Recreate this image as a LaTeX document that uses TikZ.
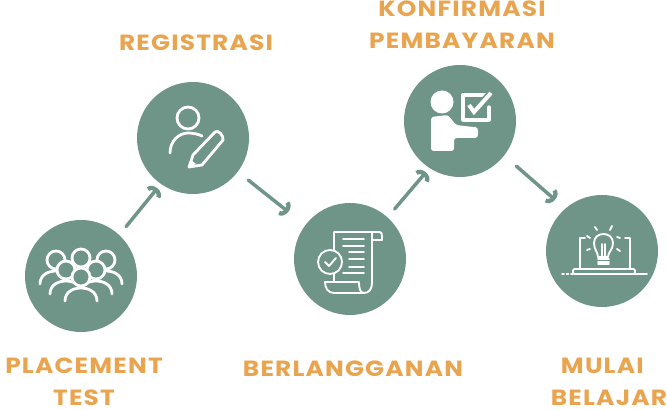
\documentclass[tikz,border=0pt]{standalone}
\usepackage{fontspec}
\setmainfont{Poppins}[LetterSpace=5.5,FakeStretch=1.13]
\usetikzlibrary{arrows.meta}
\definecolor{sage}{HTML}{6F9488}
\definecolor{sand}{HTML}{E9A44F}
\tikzstyle{stage} = [circle,fill=sage,minimum size=84pt,inner sep=0pt]
\tikzstyle{label} = [text=sand,font=\bfseries\fontsize{16.5}{24}\selectfont,align=center,inner sep=0pt]
\tikzstyle{flow} = [draw=sage,line width=2.6pt,line cap=round,-{Arc Barb[length=5pt,width=13pt,line width=3.2pt]}]
\tikzstyle{icon} = [draw=white,line width=2.1pt,line cap=round,line join=round]
\tikzstyle{thin} = [draw=white,line width=1.4pt,line cap=round,line join=round]
\newcommand{\person}[2]{%
  \fill[sage] (#1,#2) circle (10);
  \path[icon,fill=sage] (#1-16,#2-24) .. controls (#1-16,#2-15) and (#1-8,#2-11) .. (#1,#2-11)
    .. controls (#1+8,#2-11) and (#1+16,#2-15) .. (#1+16,#2-24);
  \draw[icon] (#1,#2) circle (9);
}
\begin{document}
\begin{tikzpicture}[x=0.75pt,y=0.75pt]
  \useasboundingbox (0,0) rectangle (667,410);

  %circles
  \node[stage] (placement) at (81,134) {};
  \node[stage] (registrasi) at (193,272) {};
  \node[stage] (berlangganan) at (350,151) {};
  \node[stage] (konfirmasi) at (460,289) {};
  \node[stage] (mulai) at (602,159) {};

  %labels
  \node[label] (lplacement) at (84,28) {PLACEMENT\\TEST};
  \node[label] (lregistrasi) at (196,367) {REGISTRASI};
  \node[label] (lkonfirmasi) at (462,385) {KONFIRMASI\\PEMBAYARAN};
  \node[label] (lberlangganan) at (353,41) {BERLANGGANAN};
  \node[label] (lmulai) at (609,28) {MULAI\hspace*{10pt}\\BELAJAR};

  %draw the arrows
  \draw[flow,shorten <=8pt,shorten >=4pt] (placement.47) -- (registrasi.235);
  \draw[flow,shorten <=10pt,shorten >=16pt] (registrasi.-37) -- (berlangganan.143);
  \draw[flow,shorten <=8pt,shorten >=4pt] (berlangganan.48) -- (konfirmasi.237);
  \draw[flow,shorten <=12pt,shorten >=10pt] (konfirmasi.-38) -- (mulai.131);

  %people
  \begin{scope}[shift={(placement.center)}]
    \person{-25}{16}
    \person{25}{16}
    \person{0}{18}
    \person{-15}{6}
    \person{15}{6}
    \person{0}{-1}
  \end{scope}

  %user with pencil
  \begin{scope}[shift={(registrasi.center)}]
    \draw[icon] (-5,20) circle (11);
    \draw[icon] (-23,-15) .. controls (-23,-3) and (-14,5) .. (-5,5) .. controls (0,5) and (5,4) .. (9,2);
    \draw[icon,fill=sage] (-4,-29) -- (0,-17) -- (22,6) .. controls (25,9) and (31,2) .. (30,-2) -- (9,-27) -- cycle;
    \fill[white] (-4,-29) -- (-2,-22) -- (3,-26) -- cycle;
  \end{scope}

  %document
  \begin{scope}[shift={(berlangganan.center)}]
    \draw[thin] (-16,9) -- (-16,27) -- (29,27) .. controls (32,27) and (32,25) .. (32,19) -- (22,19);
    \draw[thin] (22,27) -- (22,-24) .. controls (22,-30) and (19,-34) .. (14,-34) -- (-16,-34)
      .. controls (-22,-34) and (-25,-29) .. (-25,-23) -- (9,-23) .. controls (9,-29) and (10,-34) .. (14,-34);
    \draw[thin] (-16,-15) -- (-16,-23);
    \foreach \y in {20,13} {\draw[thin] (-7,\y) -- (14,\y);}
    \foreach \y in {7,0,-8} {\draw[thin] (-1,\y) -- (14,\y);}
    \draw[thin] (-7,-14) -- (14,-14);
    \draw[thin] (-20,-3) circle (12);
    \draw[thin] (-25,-3) -- (-21,-7) -- (-14,1);
  \end{scope}

  %presenter
  \begin{scope}[shift={(konfirmasi.center)}]
    \fill[white] (-18,19) circle (11.5);
    \fill[white,rounded corners=2pt] (-29,4) -- (-12,6) -- (-4,-4) -- (13,-6)
      .. controls (19,-6) and (19,-17) .. (13,-17) -- (-6,-17) -- (-6,-30) -- (-29,-30) -- cycle;
    \draw[icon,line width=2.4pt] (27,26) -- (3,26) -- (3,1) -- (29,1) -- (29,14);
    \draw[sage,line width=5.5pt] (9,16) -- (14,9) -- (31,28);
    \draw[white,line width=3pt] (9,16) -- (14,9) -- (31,28);
  \end{scope}

  %bulb on laptop
  \begin{scope}[shift={(mulai.center)}]
    \draw[thin] (-4,-6) .. controls (-4,-1) and (-8,1) .. (-8,8) .. controls (-8,20) and (11,20) .. (11,8)
      .. controls (11,1) and (6,-1) .. (6,-6) -- cycle;
    \draw[thin] (0,-6) -- (0,7);
    \draw[thin] (3,-6) -- (3,7);
    \foreach \y in {-8,-11,-13} {\draw[thin] (-4,\y) -- (7,\y);}
    \draw[thin] (-7,24) -- (-5,21);
    \draw[thin] (10,25) -- (8,21);
    \draw[thin] (-15,15) -- (-12,13);
    \draw[thin] (18,13) -- (15,14);
    \draw[thin] (-15,1) -- (-12,2);
    \draw[thin] (18,0) -- (15,2);
    \draw[thin] (-22,-17) -- (-22,13) -- (-17,13);
    \draw[thin] (28,-17) -- (28,13) -- (23,13);
    \draw[thin,rounded corners=1pt] (-29,-18) rectangle (33,-23);
    \draw[thin] (-25,-23) -- (45,-23);
    \draw[thin,dotted] (-40,-23) -- (-29,-23);
  \end{scope}
\end{tikzpicture}
\end{document}
